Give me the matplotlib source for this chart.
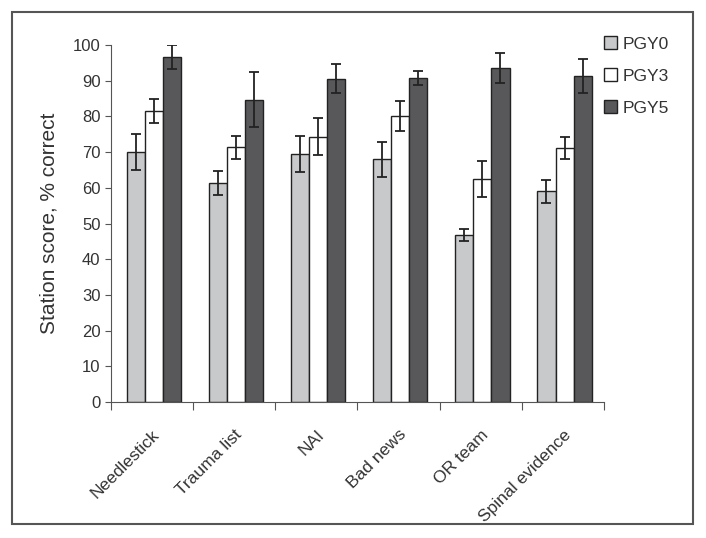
# station scores by PGY level, grouped bars with error bars

import numpy as np
import matplotlib.pyplot as plt
from matplotlib.patches import Rectangle

plt.rcParams['font.family'] = ['Liberation Sans', 'DejaVu Sans']

stations = ['Needlestick', 'Trauma list', 'NAI', 'Bad news', 'OR team', 'Spinal evidence']
levels = ['PGY0', 'PGY3', 'PGY5']

pgy0 = [70.0, 61.3, 69.5, 68.0, 46.8, 59.0]
pgy3 = [81.5, 71.4, 74.3, 80.2, 62.4, 71.2]
pgy5 = [96.7, 84.7, 90.6, 90.8, 93.6, 91.3]

pgy0_err = [5.1, 3.3, 5.0, 4.9, 1.7, 3.2]
pgy3_err = [3.3, 3.2, 5.2, 4.2, 5.0, 3.1]
pgy5_err = [3.3, 7.6, 4.0, 2.0, 4.2, 4.7]

colors = ['#c8c9cb', '#ffffff', '#58585a']

fig = plt.figure(figsize=(7.06, 5.38), dpi=100)
ax = fig.add_axes([111 / 706, 1 - 402 / 538, (604 - 111) / 706, (402 - 45) / 538])

# outer frame around the whole figure
fig.patches.append(Rectangle((12 / 706, 1 - 524 / 538), (693 - 12) / 706, (524 - 12) / 538,
                             transform=fig.transFigure, fill=False,
                             edgecolor='#555555', linewidth=1.5))

x = np.arange(len(stations))
width = 0.22
series = [pgy0, pgy3, pgy5]
errors = [pgy0_err, pgy3_err, pgy5_err]

for i, (vals, errs) in enumerate(zip(series, errors)):
    ax.bar(x + (i - 1) * width + 0.02, vals, width, color=colors[i], edgecolor='#222222',
           linewidth=1.0, label=levels[i],
           yerr=errs, capsize=3.5,
           error_kw=dict(ecolor='#222222', elinewidth=1.3, capthick=1.3))

ax.set_xlim(-0.5, len(stations) - 0.5)
ax.set_ylim(0, 100)
ax.set_yticks(range(0, 101, 10))
ax.tick_params(axis='y', labelsize=12, direction='out', length=4, color='#555555', labelcolor='#333333')

# x ticks sit between categories, labels at centers
ax.set_xticks(np.arange(-0.5, len(stations)), minor=False)
ax.set_xticklabels([])
ax.tick_params(axis='x', direction='out', length=6, color='#555555')
ax.set_xticks(x, minor=True)
ax.set_xticklabels(stations, minor=True, rotation=45, ha='right', rotation_mode='anchor',
                   fontsize=12.5, color='#333333')
ax.tick_params(axis='x', which='minor', length=0, pad=18)

ax.set_ylabel('Station score, % correct', fontsize=15, color='#333333', labelpad=10)

for s in ['top', 'right']:
    ax.spines[s].set_visible(False)
ax.spines['left'].set_color('#555555')
ax.spines['bottom'].set_color('#555555')

leg = ax.legend(loc='upper left', bbox_to_anchor=(0.985, 1.045), frameon=False, fontsize=12.5,
                handlelength=0.8, handleheight=0.8, handletextpad=0.3, labelspacing=0.95,
                borderaxespad=0, labelcolor='#333333')

fig.savefig('out.png', dpi=100)
